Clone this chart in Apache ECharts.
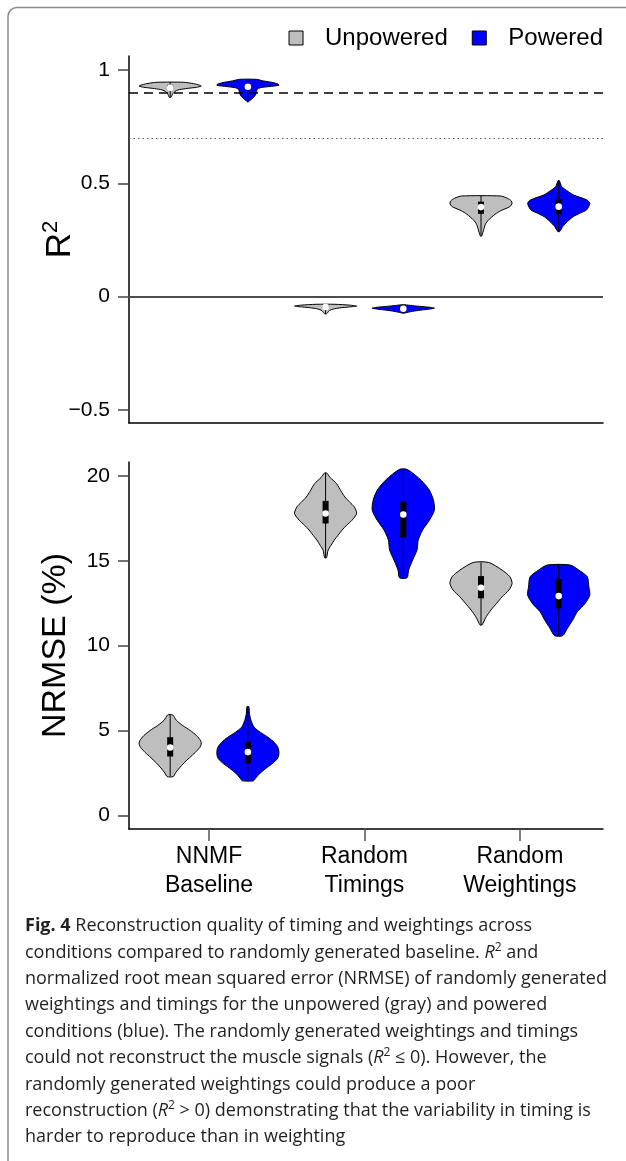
<!DOCTYPE html>
<html><head><meta charset="utf-8">
<script src="https://cdn.jsdelivr.net/npm/echarts@6/dist/echarts.min.js"></script>
<style>html,body{margin:0;padding:0;background:#fff}#c{width:626px;height:1161px}</style>
</head><body><div id="c"></div>
<script>
// ---------- data ----------
const categories = ['NNMF\nBaseline', 'Random\nTimings', 'Random\nWeightings'];
const groupNames = ['Unpowered', 'Powered'];
const groupColors = ['#bebebe', '#0000ff'];
const r2Ticks = [-0.5, 0, 0.5, 1];
const r2TickLabels = ['\u22120.5', '0', '0.5', '1'];
const nrmseTicks = [0, 5, 10, 15, 20];
const nrmseTickLabels = ['0', '5', '10', '15', '20'];
const r2RefLines = [0.9, 0.7, 0];

// violin outlines: [value, relative half-width], top to bottom
const r2UnpoweredShapes = [
  [[0.946,.42],[0.94,.75],[0.933,.95],[0.929,1],[0.924,.85],[0.918,.5],[0.912,.25],[0.905,.15],[0.895,.08],[0.88,.03]],
  [[-0.034,.3],[-0.038,.8],[-0.042,1],[-0.046,.75],[-0.05,.45],[-0.055,.25],[-0.062,.12],[-0.07,.07],[-0.076,.03]],
  [[0.444,.63],[0.434,.85],[0.423,.97],[0.412,1],[0.397,.93],[0.382,.68],[0.368,.5],[0.346,.3],[0.324,.16],[0.302,.1],[0.267,.02]]
];
const r2UnpoweredBox = [[0.915,0.922,0.935],[-0.05,-0.046,-0.04],[0.365,0.395,0.419]];
const r2PoweredShapes = [
  [[0.959,.27],[0.952,.5],[0.945,.8],[0.938,.97],[0.933,1],[0.928,.75],[0.922,.4],[0.915,.3],[0.905,.28],[0.895,.26],[0.885,.22],[0.875,.15],[0.865,.06],[0.86,.02]],
  [[-0.036,.05],[-0.04,.3],[-0.044,.6],[-0.048,.9],[-0.051,1],[-0.055,.85],[-0.06,.55],[-0.065,.3],[-0.07,.12],[-0.073,.03]],
  [[0.512,.02],[0.485,.1],[0.468,.26],[0.449,.47],[0.427,.9],[0.412,1],[0.383,.9],[0.368,.68],[0.353,.47],[0.331,.28],[0.309,.13],[0.287,.03]]
];
const r2PoweredBox = [[0.918,0.926,0.94],[-0.058,-0.054,-0.05],[0.364,0.397,0.43]];
const nrmseUnpoweredShapes = [
  [[5.92,.08],[5.6,.2],[5.3,.4],[5.0,.65],[4.7,.85],[4.4,.98],[4.2,1],[4.0,.95],[3.7,.8],[3.4,.62],[3.1,.45],[2.8,.3],[2.5,.17],[2.29,.1]],
  [[20.18,.03],[19.9,.15],[19.55,.35],[19.1,.5],[18.76,.62],[18.45,.78],[18.18,.92],[17.79,1],[17.39,.85],[17.1,.68],[16.81,.53],[16.5,.4],[16.22,.28],[15.9,.17],[15.63,.08],[15.18,.03]],
  [[14.9,.25],[14.45,.68],[14.06,.93],[13.67,1],[13.28,.9],[12.88,.68],[12.49,.5],[12.1,.32],[11.71,.17],[11.22,.03]]
];
const nrmseUnpoweredBox = [[3.47,4.0,4.61],[17.2,17.79,18.53],[12.79,13.41,14.1]];
const nrmsePoweredShapes = [
  [[6.41,.03],[6.0,.05],[5.6,.1],[5.2,.2],[4.9,.4],[4.6,.65],[4.3,.85],[4.0,.97],[3.7,1],[3.4,.97],[3.1,.82],[2.8,.6],[2.5,.4],[2.2,.25],[2.04,.18]],
  [[20.38,.13],[19.75,.57],[19.16,.84],[18.57,.97],[17.98,1],[17.39,.84],[16.81,.62],[16.22,.48],[15.63,.44],[15.04,.3],[14.45,.17],[14.0,.12]],
  [[14.75,.37],[14.45,.65],[14.06,.92],[13.47,.97],[12.98,1],[12.49,.85],[12.0,.6],[11.51,.45],[11.02,.28],[10.59,.13]]
];
const nrmsePoweredBox = [[3.08,3.73,4.32],[16.38,17.73,18.47],[12.2,12.92,13.92]];

const captionLines = [
  '{b|Fig. 4} Reconstruction quality of timing and weightings across',
  'conditions compared to randomly generated baseline. {i|R}{sup|2} and',
  'normalized root mean squared error (NRMSE) of randomly generated',
  'weightings and timings for the unpowered (gray) and powered',
  'conditions (blue). The randomly generated weightings and timings',
  'could not reconstruct the muscle signals ({i|R}{sup|2} \u2264 0). However, the',
  'randomly generated weightings could produce a poor',
  'reconstruction ({i|R}{sup|2} > 0) demonstrating that the variability in timing is',
  'harder to reproduce than in weighting'
];

// ---------- chart ----------
const FONT = 'Liberation Sans, Arial, Helvetica, sans-serif';
const CAPFONT = 'Open Sans, sans-serif';
const CAPSIZE = 18;
const X_MIN = 0.47, X_MAX = 6.57;
const labelTicks = [1.5, 3.5, 5.5];

function violinRenderer(shapes, boxes, color) {
  return function (params, api) {
    const pos = api.value(0), ci = api.value(1);
    const shape = shapes[ci], box = boxes[ci];
    const hw = 0.4;
    const right = shape.map(p => api.coord([pos + p[1] * hw, p[0]]));
    const left = shape.slice().reverse().map(p => api.coord([pos - p[1] * hw, p[0]]));
    const top = api.coord([pos, shape[0][0]]);
    const bot = api.coord([pos, shape[shape.length - 1][0]]);
    const q1 = api.coord([pos, box[0]]), med = api.coord([pos, box[1]]), q3 = api.coord([pos, box[2]]);
    return {
      type: 'group',
      children: [
        { type: 'polygon', shape: { points: right.concat(left), smooth: 0.25 },
          style: { fill: color, stroke: '#000', lineWidth: 1 } },
        { type: 'line', shape: { x1: top[0], y1: top[1], x2: bot[0], y2: bot[1] },
          style: { stroke: '#000', lineWidth: 1 } },
        { type: 'rect', shape: { x: q3[0] - 3, y: q3[1], width: 6, height: Math.max(1, q1[1] - q3[1]) },
          style: { fill: '#000' } },
        { type: 'circle', shape: { cx: med[0], cy: med[1], r: 3.3 }, style: { fill: '#fff' } }
      ]
    };
  };
}

function violinSeries(name, g, axisIdx, shapes, boxes) {
  return {
    type: 'custom', name: name, xAxisIndex: axisIdx, yAxisIndex: axisIdx, z: 3,
    itemStyle: { color: groupColors[g], borderColor: '#000', borderWidth: 1 },
    encode: { x: 0, y: -1 },
    data: categories.map((c, i) => [i * 2 + 1 + g, i]),
    renderItem: violinRenderer(shapes, boxes, groupColors[g])
  };
}

const chart = echarts.init(document.getElementById('c'), null, { renderer: 'canvas' });

const axisLineStyle = { show: true, onZero: false, lineStyle: { color: '#000', width: 1.5 } };

const option = {
  animation: false,
  backgroundColor: '#fff',
  legend: {
    data: groupNames, right: 23, top: 26, padding: 0, icon: 'rect', itemWidth: 14, itemHeight: 14, itemGap: 24,
    itemStyle: { borderColor: '#000', borderWidth: 1 },
    textStyle: { fontSize: 24, fontFamily: FONT, color: '#000', padding: [0, 0, 0, 17] }
  },
  grid: [
    { left: 129, right: 23, top: 56, height: 367 },
    { left: 129, right: 23, top: 462, height: 367 }
  ],
  xAxis: [
    { type: 'value', gridIndex: 0, min: X_MIN, max: X_MAX, axisLine: axisLineStyle,
      axisTick: { show: false }, axisLabel: { show: false }, splitLine: { show: false } },
    { type: 'value', gridIndex: 1, min: X_MIN, max: X_MAX, axisLine: axisLineStyle,
      axisTick: { show: true, customValues: labelTicks, length: 12, lineStyle: { color: '#555', width: 1.5 } },
      axisLabel: { customValues: labelTicks, formatter: v => categories[Math.round((v - 1.5) / 2)],
        fontSize: 23, lineHeight: 29, margin: 13, color: '#000', fontFamily: FONT },
      splitLine: { show: false } }
  ],
  yAxis: [
    { type: 'value', gridIndex: 0, min: -0.558, max: 1.062, axisLine: axisLineStyle,
      axisTick: { show: true, customValues: r2Ticks, length: 11, lineStyle: { color: '#444', width: 1.5 } },
      axisLabel: { customValues: r2Ticks, formatter: v => r2TickLabels[r2Ticks.indexOf(v)],
        fontSize: 21, margin: 19, color: '#000', fontFamily: FONT },
      splitLine: { show: false },
      name: '{r|R}{s|2}', nameLocation: 'middle', nameGap: 49, nameMoveOverlap: false,
      nameTextStyle: { color: '#000', fontFamily: FONT,
        rich: { r: { fontSize: 35, lineHeight: 40, fontFamily: FONT, color: '#000' },
                s: { fontSize: 22, lineHeight: 26, verticalAlign: 'top', fontFamily: FONT, color: '#000' } } } },
    { type: 'value', gridIndex: 1, min: -0.8, max: 20.82, axisLine: axisLineStyle,
      axisTick: { show: true, customValues: nrmseTicks, length: 11, lineStyle: { color: '#444', width: 1.5 } },
      axisLabel: { customValues: nrmseTicks, formatter: v => nrmseTickLabels[nrmseTicks.indexOf(v)],
        fontSize: 21, margin: 19, color: '#000', fontFamily: FONT },
      splitLine: { show: false },
      name: 'NRMSE (%)', nameLocation: 'middle', nameGap: 53, nameMoveOverlap: false,
      nameTextStyle: { fontSize: 34, lineHeight: 40, color: '#000', fontFamily: FONT } }
  ],
  series: [
    { type: 'line', xAxisIndex: 0, yAxisIndex: 0, data: [], z: 1, silent: true,
      markLine: { silent: true, symbol: ['none', 'none'], label: { show: false }, animation: false,
        data: [
          { yAxis: r2RefLines[0], lineStyle: { type: [9, 6], color: '#000', width: 1.5 } },
          { yAxis: r2RefLines[1], lineStyle: { type: [1.5, 3], color: '#555', width: 1.2 } },
          { yAxis: r2RefLines[2], lineStyle: { type: 'solid', color: '#4d4d4d', width: 2 } }
        ] } },
    violinSeries(groupNames[0], 0, 0, r2UnpoweredShapes, r2UnpoweredBox),
    violinSeries(groupNames[1], 1, 0, r2PoweredShapes, r2PoweredBox),
    violinSeries(groupNames[0], 0, 1, nrmseUnpoweredShapes, nrmseUnpoweredBox),
    violinSeries(groupNames[1], 1, 1, nrmsePoweredShapes, nrmsePoweredBox)
  ],
  graphic: [
    { type: 'rect', silent: true, z: 0,
      shape: { x: 8, y: 7.5, width: 700, height: 1300, r: [9, 0, 0, 0] },
      style: { fill: 'none', stroke: '#8a8a8a', lineWidth: 1.5 } }
  ].concat(captionLines.map((line, i) => ({
    type: 'text', silent: true,
    style: {
      x: 25, y: 926 + i * 26.4, text: line, verticalAlign: 'middle',
      fontSize: CAPSIZE, fontFamily: CAPFONT, fill: '#231f20', lineHeight: 22,
      rich: {
        b: { fontSize: CAPSIZE, fontFamily: CAPFONT, fontWeight: 'bold', fill: '#231f20', lineHeight: 22 },
        i: { fontSize: CAPSIZE, fontFamily: CAPFONT, fontStyle: 'italic', fill: '#231f20', lineHeight: 22 },
        sup: { fontSize: 12, fontFamily: CAPFONT, fill: '#231f20', lineHeight: 13, verticalAlign: 'top' }
      }
    }
  })))
};
chart.setOption(option);
</script>
</body></html>
